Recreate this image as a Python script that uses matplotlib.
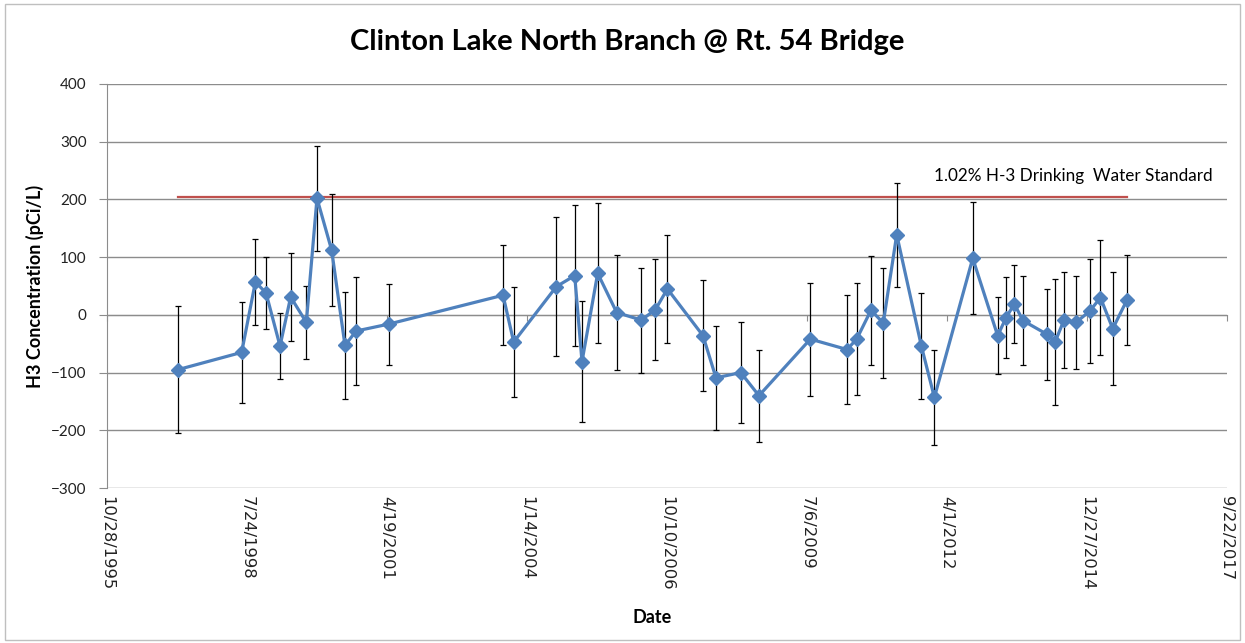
import matplotlib.pyplot as plt
from matplotlib.patches import Rectangle
import pandas as pd

dates = ['1997-03-18', '1998-06-18', '1998-09-24', '1998-12-09', '1999-03-19', '1999-06-03',
         '1999-09-23', '1999-12-08', '2000-03-22', '2000-06-25', '2000-09-12', '2001-05-03',
         '2003-07-29', '2003-10-13', '2004-08-13', '2004-12-22', '2005-02-12', '2005-06-04',
         '2005-10-18', '2006-04-12', '2006-07-21', '2006-10-15', '2007-06-26', '2007-09-27',
         '2008-03-22', '2008-07-30', '2009-08-01', '2010-04-20', '2010-06-28', '2010-10-08',
         '2011-01-04', '2011-04-10', '2011-10-03', '2012-01-04', '2012-10-04', '2013-03-31',
         '2013-05-30', '2013-07-28', '2013-09-28', '2014-03-21', '2014-05-15', '2014-07-18',
         '2014-10-12', '2015-01-20', '2015-04-04', '2015-07-01', '2015-10-09']
h3 = [-95, -65, 57, 38, -54, 31, -13, 202, 112, -53, -28, -16,
      34, -47, 49, 68, -81, 72, 4, -9, 9, 45, -36, -109,
      -100, -140, -42, -60, -42, 8, -14, 139, -54, -143, 98, -36,
      -5, 19, -10, -34, -47, -9, -13, 7, 30, -24, 25]
err = [110, 87, 75, 62, 57, 77, 63, 91, 97, 93, 93, 70,
       87, 95, 121, 122, 105, 121, 99, 91, 88, 93, 96, 90,
       87, 80, 98, 94, 97, 94, 96, 90, 92, 82, 97, 67,
       70, 68, 77, 78, 109, 83, 80, 90, 100, 98, 78]
standard = 204
std_label = '1.02% H-3 Drinking  Water Standard'
tick_dates = ['1995-10-28', '1998-07-24', '2001-04-19', '2004-01-14', '2006-10-10',
              '2009-07-06', '2012-04-01', '2014-12-27', '2017-09-22']
tick_labels = ['10/28/1995', '7/24/1998', '4/19/2001', '1/14/2004', '10/10/2006',
               '7/6/2009', '4/1/2012', '12/27/2014', '9/22/2017']

x = pd.to_datetime(dates)
xt = pd.to_datetime(tick_dates)

plt.rcParams['font.family'] = ['Lato', 'DejaVu Sans']
fig = plt.figure(figsize=(12.45, 6.43), dpi=100)
fig.patches.append(Rectangle((0.004, 0.004), 0.992, 0.99, transform=fig.transFigure,
                             fill=False, edgecolor='#bfbfbf', lw=1))
ax = fig.add_axes([0.0857, 0.241, 0.8996, 0.6284])

ax.plot([x[0], x[-1]], [standard, standard], color='#C0504D', lw=1.6, zorder=2)
ax.errorbar(x, h3, yerr=err, fmt='none', ecolor='black', elinewidth=0.9,
            capsize=2.5, capthick=0.9, zorder=3)
ax.plot(x, h3, color='#4F81BD', lw=2.3, marker='D', markersize=7.5, zorder=4)

ax.set_ylim(-300, 400)
ax.set_yticks(range(-300, 401, 100))
ax.set_xlim(xt[0], xt[-1])
ax.grid(axis='y', color='#8c8c8c', lw=1)
ax.set_axisbelow(True)
for s in ['top', 'right']:
    ax.spines[s].set_visible(False)
ax.spines['left'].set_color('#8c8c8c')
ax.spines['bottom'].set_color('#8c8c8c')
ax.spines['bottom'].set_position(('data', 0))
ax.set_xticks(xt)
ax.tick_params(axis='x', length=4, color='#8c8c8c', labelbottom=False)
ax.tick_params(axis='y', length=5.5, pad=9, color='#8c8c8c', labelsize=11,
               labelcolor='#222222')

sec = ax.secondary_xaxis('bottom')
sec.set_xticks(xt)
sec.set_xticklabels(tick_labels, rotation=-90, fontsize=11.8, family='DejaVu Sans',
                    color='#222222')
sec.tick_params(length=0, pad=6)
sec.spines['bottom'].set_visible(False)

ax.text(xt[-1] - pd.Timedelta(days=100), 240, std_label, ha='right', va='center',
        fontsize=12.3)

fig.text(0.504, 0.935, 'Clinton Lake North Branch @ Rt. 54 Bridge', ha='center',
         va='center', fontsize=21, fontweight='bold')
ax.set_ylabel('H3 Concentration (pCi/L)', fontsize=13, fontweight='bold', labelpad=5)
fig.text(0.524, 0.04, 'Date', ha='center', va='center', fontsize=13, fontweight='bold')

fig.savefig('out.png', dpi=100)
